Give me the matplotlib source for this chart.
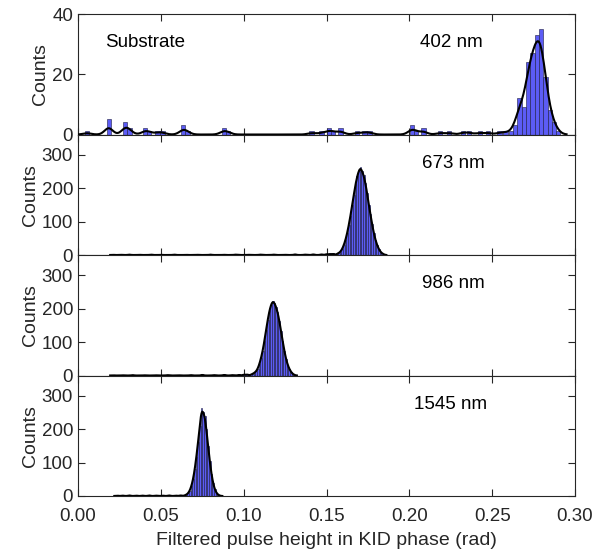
"""Stacked pulse-height histograms for four wavelengths."""

import matplotlib
matplotlib.use("Agg")
import matplotlib.pyplot as plt
import numpy as np

plt.rcParams["font.family"] = ["Liberation Sans", "DejaVu Sans"]

# --- data -------------------------------------------------------------------
# Top panel (402 nm + substrate events), bin width 0.0026 rad
w_top = 0.0026
top_x = [0.0055, 0.0185, 0.0285, 0.031, 0.0405, 0.043, 0.048, 0.051,
         0.0635, 0.066, 0.088, 0.0905, 0.141, 0.147, 0.1515, 0.154, 0.1585,
         0.1685, 0.173, 0.176, 0.2015, 0.204, 0.2085, 0.2185, 0.224, 0.2325,
         0.236, 0.2425, 0.2475, 0.2545, 0.258,
         0.2613, 0.2639, 0.2665, 0.2691, 0.2717, 0.2743, 0.2769, 0.2795,
         0.2821, 0.2847, 0.2873, 0.2899]
top_c = [1, 5, 4, 2, 2, 1, 1, 1,
         3, 1, 2, 1, 1, 1, 2, 1, 2,
         1, 1, 1, 3, 1, 2, 1, 1, 1,
         1, 1, 1, 1, 1,
         1, 3, 12, 9, 24, 27, 33, 35,
         19, 8, 4, 1]

# Lower panels, bin width 0.001 rad (tail + main peak)
w_low = 0.001
p673_x = [0.021, 0.026, 0.031, 0.037, 0.044, 0.050, 0.058, 0.065, 0.072,
          0.080, 0.088, 0.095, 0.103, 0.110, 0.118, 0.125, 0.131, 0.137,
          0.142, 0.147, 0.150, 0.152, 0.154,
          0.1565, 0.1575, 0.1585, 0.1595, 0.1605, 0.1615, 0.1625, 0.1635,
          0.1645, 0.1655, 0.1665, 0.1675, 0.1685, 0.1695, 0.1705, 0.1715,
          0.1725, 0.1735, 0.1745, 0.1755, 0.1765, 0.1775, 0.1785, 0.1795,
          0.1805, 0.1815, 0.1825, 0.1835, 0.1845]
p673_c = [1, 1, 2, 1, 2, 1, 2, 1, 1,
          2, 1, 2, 1, 2, 2, 1, 3, 2,
          3, 3, 4, 5, 6,
          4, 6, 10, 18, 30, 45, 66, 90,
          118, 150, 180, 212, 236, 252, 264, 250,
          238, 214, 186, 150, 122, 92, 66, 45,
          30, 18, 10, 5, 2]

p986_x = [0.021, 0.027, 0.033, 0.040, 0.047, 0.054, 0.061, 0.068, 0.075,
          0.082, 0.088, 0.093, 0.097, 0.100, 0.102,
          0.1045, 0.1055, 0.1065, 0.1075, 0.1085, 0.1095, 0.1105, 0.1115,
          0.1125, 0.1135, 0.1145, 0.1155, 0.1165, 0.1175, 0.1185, 0.1195,
          0.1205, 0.1215, 0.1225, 0.1235, 0.1245, 0.1255, 0.1265, 0.1275,
          0.1285, 0.1295, 0.1305]
p986_c = [1, 1, 2, 1, 1, 2, 1, 2, 3,
          2, 3, 2, 3, 4, 5,
          3, 5, 8, 12, 20, 34, 52, 74,
          102, 136, 166, 194, 212, 224, 218, 206,
          190, 164, 134, 104, 74, 50, 32, 20,
          11, 5, 2]

p1545_x = [0.0235, 0.027, 0.031, 0.035, 0.039, 0.043, 0.047, 0.051, 0.055,
           0.059, 0.062,
           0.0645, 0.0655, 0.0665, 0.0675, 0.0685, 0.0695, 0.0705, 0.0715,
           0.0725, 0.0735, 0.0745, 0.0755, 0.0765, 0.0775, 0.0785, 0.0795,
           0.0805, 0.0815, 0.0825, 0.0835, 0.0845, 0.0855]
p1545_c = [2, 2, 3, 2, 2, 3, 2, 2, 3,
           2, 3,
           2, 4, 8, 16, 30, 50, 80, 118,
           162, 210, 264, 252, 240, 200, 150, 104,
           66, 38, 20, 9, 4, 1]

labels = ["402 nm", "673 nm", "986 nm", "1545 nm"]
label_x = [0.2064, 0.2076, 0.2076, 0.2028]
ymax = [40, 360, 360, 360]
yticks = [[0, 20, 40], [0, 100, 200, 300], [0, 100, 200, 300], [0, 100, 200, 300]]

BAR_COLOR = "#5c5cf5"
TEXT_COLOR = "#262626"


def smooth_curve(x, c, width, sigma, grid):
    """Gaussian-kernel smoothing of the binned counts (the fitted line)."""
    x = np.asarray(x)[:, None]
    c = np.asarray(c)[:, None]
    k = width / (sigma * np.sqrt(2 * np.pi))
    return (c * k * np.exp(-(grid[None, :] - x) ** 2 / (2 * sigma ** 2))).sum(axis=0)


def draw_panel(ax, x, c, width, sigma, label, lx, top, ticks):
    ax.bar(x, c, width=width, color=BAR_COLOR, edgecolor="#1a1a40",
           linewidth=0.4, zorder=2)
    grid = np.linspace(min(x) - 2 * sigma, max(x) + 2 * sigma, 600)
    ax.plot(grid, smooth_curve(x, c, width, sigma, grid), color="black",
            linewidth=1.5, zorder=3)
    ax.set_ylim(0, top)
    ax.set_yticks(ticks)
    ax.set_ylabel("Counts", fontsize=14, color=TEXT_COLOR, labelpad=2)
    ax.text(lx, top * 0.76, label, fontsize=13.5, va="center", color="black")


fig, axes = plt.subplots(4, 1, figsize=(5.92, 5.54), dpi=100, sharex=True)
fig.subplots_adjust(left=0.1318, right=0.9713, top=0.9747, bottom=0.1047,
                    hspace=0)

panels = [(top_x, top_c, w_top, 0.0025),
          (p673_x, p673_c, w_low, 0.0008),
          (p986_x, p986_c, w_low, 0.0008),
          (p1545_x, p1545_c, w_low, 0.0008)]

for i, (ax, (x, c, w, s)) in enumerate(zip(axes, panels)):
    draw_panel(ax, x, c, w, s, labels[i], label_x[i], ymax[i], yticks[i])
    ax.tick_params(direction="in", top=True, right=True, length=5,
                   width=0.8, labelsize=13.5, colors=TEXT_COLOR)
    ax.tick_params(axis="x", pad=9)
    for sp in ax.spines.values():
        sp.set_color(TEXT_COLOR)
        sp.set_linewidth(0.8)

axes[0].text(0.0163, 30.7, "Substrate", fontsize=13.5, va="center")

axes[-1].set_xlim(0, 0.3)
axes[-1].set_xticks(np.arange(0, 0.301, 0.05))
axes[-1].set_xticklabels([f"{v:.2f}" for v in np.arange(0, 0.301, 0.05)])
axes[-1].set_xlabel("Filtered pulse height in KID phase (rad)", fontsize=14,
                    color=TEXT_COLOR, labelpad=5)

fig.savefig("out.png", dpi=100)
